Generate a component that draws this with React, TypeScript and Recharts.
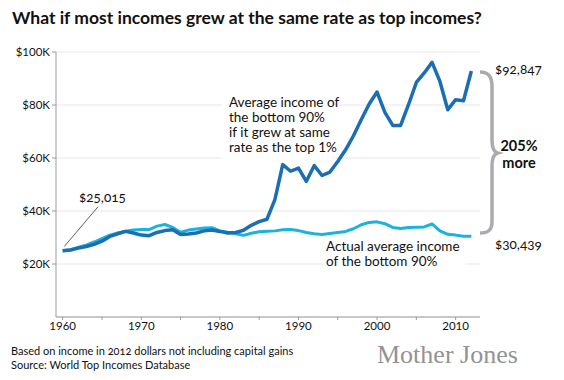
import {
  LineChart,
  Line,
  XAxis,
  YAxis,
  CartesianGrid,
  ReferenceArea,
  ReferenceLine,
} from 'recharts';

// years covered by the World Top Incomes series
const years = [
  1960, 1961, 1962, 1963, 1964, 1965, 1966, 1967, 1968, 1969,
  1970, 1971, 1972, 1973, 1974, 1975, 1976, 1977, 1978, 1979,
  1980, 1981, 1982, 1983, 1984, 1985, 1986, 1987, 1988, 1989,
  1990, 1991, 1992, 1993, 1994, 1995, 1996, 1997, 1998, 1999,
  2000, 2001, 2002, 2003, 2004, 2005, 2006, 2007, 2008, 2009,
  2010, 2011, 2012,
];

// average income of the bottom 90% if it grew like the top 1%
const ifGrewLikeTop = [
  25015, 25300, 26000, 26600, 27400, 28600, 30400, 31400, 32300, 31700,
  30900, 30700, 31900, 32600, 32900, 31100, 31300, 31700, 32500, 32800,
  32300, 31700, 31900, 32700, 34600, 36000, 36900, 44300, 57500, 55000,
  56200, 51200, 57100, 53400, 54700, 58700, 63100, 68400, 74500, 80400,
  84900, 77200, 72300, 72300, 80100, 88500, 92100, 96100, 88900, 78200,
  82000, 81600, 92847,
];

// actual average income of the bottom 90%
const actualBottom90 = [
  25015, 25400, 26300, 27100, 28300, 29600, 30900, 31700, 32400, 32800,
  33000, 33000, 34300, 34900, 33800, 32000, 32800, 33200, 33600, 33700,
  32500, 32000, 31400, 30800, 31600, 32200, 32400, 32500, 32900, 33000,
  32600, 31900, 31400, 31100, 31500, 31900, 32300, 33300, 34800, 35700,
  35900, 35200, 33800, 33400, 33800, 33900, 34000, 35100, 32500, 31200,
  30900, 30500, 30439,
];

const yearTicks = [1960, 1965, 1970, 1975, 1980, 1985, 1990, 1995, 2000, 2005, 2010];
const incomeTicks = [20000, 40000, 60000, 80000, 100000];

const chartData = years.map((year, i) => ({
  year,
  top: ifGrewLikeTop[i],
  actual: actualBottom90[i],
}));

const DARK = '#1b6db4';
const LIGHT = '#1ab3df';
const AXIS = '#9b9b9b';

const abs = (left: number, top: number): React.CSSProperties => ({
  position: 'absolute',
  left,
  top,
  whiteSpace: 'nowrap',
});

export default function App() {
  return (
    <div
      style={{
        position: 'absolute',
        left: 0,
        top: 0,
        width: 564,
        height: 380,
        background: '#fff',
        fontFamily: 'Lato, "Open Sans", sans-serif',
        color: '#111',
      }}
    >
      <LineChart
        width={564}
        height={380}
        data={chartData}
        margin={{ top: 52, right: 84, bottom: 33, left: 0 }}
      >
        <CartesianGrid vertical={false} stroke="#e7e7e7" />
        {/* white boxes behind the two notes */}
        <ReferenceArea
          x1={1980.3}
          x2={1994.6}
          y1={59600}
          y2={84500}
          fill="#fff"
          fillOpacity={1}
          stroke="none"
          ifOverflow="visible"
        />
        <ReferenceArea
          x1={1993.2}
          x2={2011.4}
          y1={17500}
          y2={29000}
          fill="#fff"
          fillOpacity={1}
          stroke="none"
          ifOverflow="visible"
        />
        <XAxis
          dataKey="year"
          type="number"
          domain={[1959.15, 2013.1]}
          ticks={yearTicks}
          interval={0}
          allowDataOverflow
          height={30}
          stroke={AXIS}
          tickSize={3}
          tick={{ fill: '#111', fontSize: 11.5 }}
          tickFormatter={(v: number) => (v % 10 === 0 ? String(v) : '')}
        />
        <YAxis
          type="number"
          domain={[0, 100000]}
          ticks={incomeTicks}
          interval={0}
          width={56}
          stroke={AXIS}
          tickSize={4}
          tick={{ fill: '#111', fontSize: 11.5 }}
          tickFormatter={(v: number) => `$${v / 1000}K`}
        />
        <ReferenceLine
          segment={[
            { x: 1960.2, y: 26600 },
            { x: 1964.5, y: 41600 },
          ]}
          stroke="#333"
          strokeWidth={0.8}
          ifOverflow="visible"
        />
        <Line
          dataKey="actual"
          stroke={LIGHT}
          strokeWidth={3}
          dot={false}
          activeDot={false}
          strokeLinejoin="round"
          isAnimationActive={false}
        />
        <Line
          dataKey="top"
          stroke={DARK}
          strokeWidth={3.5}
          dot={false}
          activeDot={false}
          strokeLinejoin="round"
          isAnimationActive={false}
        />
      </LineChart>

      <div style={{ ...abs(12, 7), fontSize: 17.5, fontWeight: 700, lineHeight: '22px' }}>
        What if most incomes grew at the same rate as top incomes?
      </div>

      <div style={{ ...abs(79, 189), fontSize: 13.5, lineHeight: '16px', fontVariantNumeric: 'oldstyle-nums' }}>
        $25,015
      </div>

      <div style={{ ...abs(229, 95), fontSize: 13.5, lineHeight: '15px' }}>
        Average income of
        <br />
        the bottom 90%
        <br />
        if it grew at same
        <br />
        rate as the top 1%
      </div>

      <div style={{ ...abs(326, 239), fontSize: 13.5, lineHeight: '14.5px' }}>
        Actual average income
        <br />
        of the bottom 90%
      </div>

      <div style={{ ...abs(495, 61), fontSize: 13.5, lineHeight: '16px', fontVariantNumeric: 'oldstyle-nums' }}>
        $92,847
      </div>
      <div style={{ ...abs(495, 236), fontSize: 13.5, lineHeight: '16px', fontVariantNumeric: 'oldstyle-nums' }}>
        $30,439
      </div>

      <svg width={564} height={380} style={{ position: 'absolute', left: 0, top: 0, pointerEvents: 'none' }}>
        <path
          d="M480,72 C488,72 492,76 492,86 L492,140 C492,148 494,152 497.5,153 C494,154 492,158 492,166 L492,222 C492,230 488,233 480,233"
          fill="none"
          stroke="#a9abae"
          strokeWidth={3.5}
        />
      </svg>

      <div style={{ ...abs(500, 137), width: 38, fontSize: 14.5, fontWeight: 700, lineHeight: '17px', textAlign: 'center' }}>
        205%
      </div>
      <div style={{ ...abs(500, 154), width: 38, fontSize: 14.5, fontWeight: 700, lineHeight: '17px', textAlign: 'center' }}>
        more
      </div>

      <div style={{ ...abs(11, 344), fontSize: 11, lineHeight: '14px', fontVariantNumeric: 'oldstyle-nums' }}>
        Based on income in 2012 dollars not including capital gains
        <br />
        Source: World Top Incomes Database
      </div>

      <div
        style={{
          ...abs(377, 340),
          fontSize: 26,
          lineHeight: '30px',
          fontFamily: '"Liberation Serif", "DejaVu Serif", serif',
          color: '#939393',
        }}
      >
        Mother Jones
      </div>
    </div>
  );
}
